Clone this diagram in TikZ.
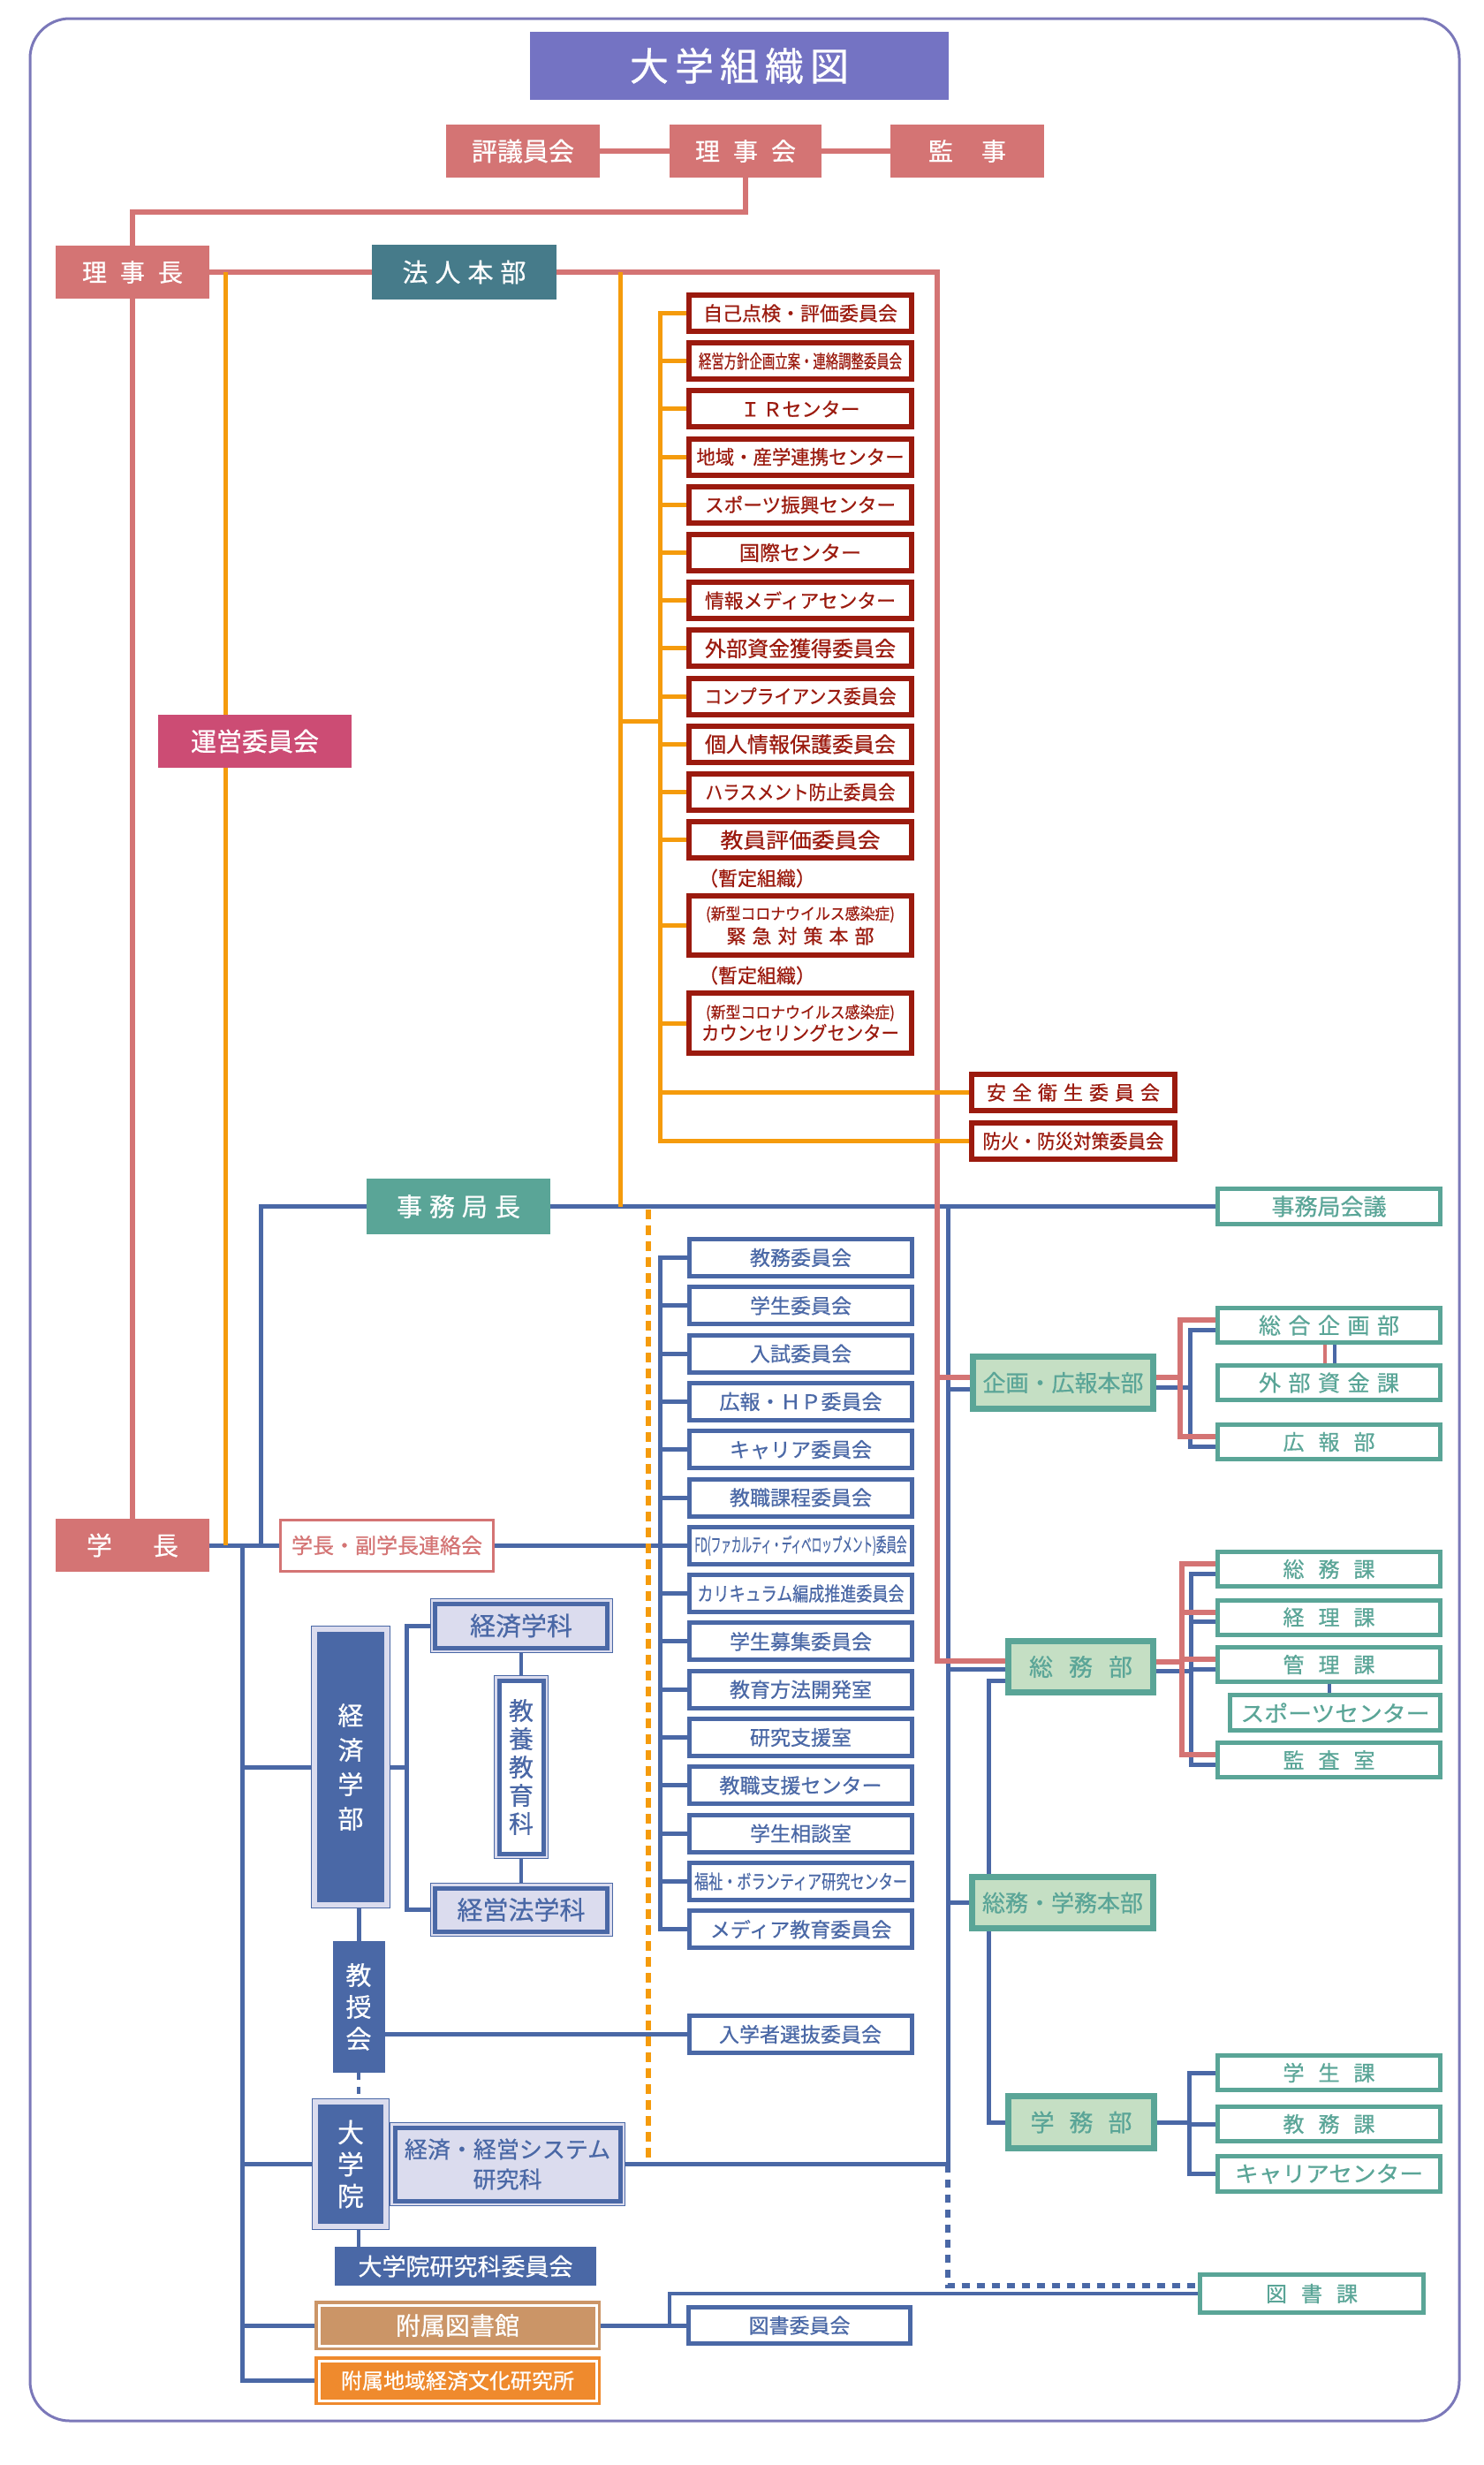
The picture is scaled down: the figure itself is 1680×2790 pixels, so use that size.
\documentclass[tikz,border=0pt]{standalone}
\usepackage{fontspec}
\setmainfont{Noto Sans CJK JP}[FakeBold=0.6]
\usepackage{graphicx}
\usetikzlibrary{backgrounds}

\definecolor{salmon}{HTML}{D47474}
\definecolor{petrol}{HTML}{467B8A}
\definecolor{titleblue}{HTML}{7473C3}
\definecolor{framec}{HTML}{7B78B9}
\definecolor{dkred}{HTML}{9B1A0E}
\definecolor{amber}{HTML}{F59B0C}
\definecolor{navy}{HTML}{4A68A6}
\definecolor{jteal}{HTML}{5AA597}
\definecolor{mint}{HTML}{C5DFC4}
\definecolor{lav}{HTML}{DBDCEE}
\definecolor{rose}{HTML}{CC4C74}
\definecolor{libtan}{HTML}{CB9567}
\definecolor{tangerine}{HTML}{EF8A2D}

\newcommand{\jfs}[1]{\fontsize{#1}{#1}\selectfont}
\newcommand{\jfl}[2]{\fontsize{#1}{#2}\selectfont}
\newcommand{\jgap}[1]{\hspace{#1pt}}
\newcommand{\fitw}[2]{\resizebox{#1pt}{\height}{#2}}

\tikzset{
  jbox/.style={rectangle, inner sep=0pt, outer sep=0pt},
  headbox/.style={jbox, fill=salmon, text=white, minimum width=174pt, minimum height=60pt, font=\jfs{28}},
  redbox/.style={jbox, draw=dkred, line width=6pt, fill=white, text=dkred, minimum width=252pt, minimum height=41pt, font=\jfs{22}},
  comm/.style={jbox, draw=navy, line width=5pt, fill=white, text=navy, minimum width=252pt, minimum height=42pt, font=\jfs{23}},
  office/.style={jbox, draw=jteal, line width=5pt, fill=white, text=jteal, minimum width=252pt, minimum height=39pt, font=\jfs{24}},
  hq/.style={jbox, draw=jteal, line width=7pt, fill=mint, text=jteal, font=\jfs{26}},
  faculty/.style={jbox, preaction={draw=navy, line width=14pt}, preaction={draw=lav, line width=12pt}, fill=navy, text=white},
  dept/.style={jbox, preaction={draw=navy, line width=12pt}, preaction={draw=lav, line width=10pt}, draw=navy, line width=5pt, fill=lav, text=navy},
  annex/.style={jbox, preaction={draw=#1, line width=10pt}, fill=#1, draw=white, line width=3pt, text=white, minimum width=314pt, minimum height=46pt},
  pinkline/.style={draw=salmon, line width=6pt},
  amberline/.style={draw=amber, line width=5pt},
  amberdash/.style={draw=amber, line width=6pt, dash pattern=on 11pt off 7pt},
  navyline/.style={draw=navy, line width=5pt},
  navydash/.style={draw=navy, line width=6pt, dash pattern=on 9pt off 8pt},
}

\begin{document}
\begin{tikzpicture}[x=1pt, y=-1pt]
  \useasboundingbox (0,0) rectangle (1680,2790);

  % board
  \node[jbox, fill=titleblue, text=white, minimum width=474pt, minimum height=77pt, font=\jfs{44}] (title) at (837,74.5) {大\jgap{7}学\jgap{7}組\jgap{7}織\jgap{7}図};
  \node[headbox, font=\jfs{29}] (hyogi) at (592,171) {評議員会};
  \node[headbox, minimum width=172pt] (rijikai) at (844,171) {理\jgap{15}事\jgap{15}会};
  \node[headbox] (kanji) at (1095,171) {監\jgap{32}事};
  \node[headbox] (rijicho) at (150,308) {理\jgap{15}事\jgap{15}長};
  \node[jbox, fill=petrol, text=white, minimum width=209pt, minimum height=62pt, font=\jfs{29}] (houjin) at (525.5,308) {法\jgap{8}人\jgap{8}本\jgap{8}部};
  \node[jbox, fill=rose, text=white, minimum width=219pt, minimum height=60pt, font=\jfs{29}] (unei) at (288.5,839) {運営委員会};

  % red committees
  \node[redbox] (r1) at (906,354.5) {自己点検・評価委員会};
  \node[redbox] (r2) at (906,408.7) {\fitw{230}{\jfs{21}経営方針企画立案・連絡調整委員会}};
  \node[redbox] (r3) at (906,462.9) {Ｉ\jgap{3}Ｒセンター};
  \node[redbox] (r4) at (906,517.1) {\fitw{235}{地域・産学連携センター}};
  \node[redbox] (r5) at (906,571.3) {\fitw{216}{スポーツ振興センター}};
  \node[redbox, font=\jfs{23}] (r6) at (906,625.5) {国際センター};
  \node[redbox] (r7) at (906,679.7) {\fitw{216}{情報メディアセンター}};
  \node[redbox, font=\jfs{24}] (r8) at (906,733.9) {外部資金獲得委員会};
  \node[redbox] (r9) at (906,788.1) {\fitw{217}{コンプライアンス委員会}};
  \node[redbox, font=\jfs{24}] (r10) at (906,842.3) {個人情報保護委員会};
  \node[redbox] (r11) at (906,896.5) {\fitw{215}{ハラスメント防止委員会}};
  \node[redbox, font=\jfs{24}] (r12) at (906,950.7) {\fitw{181}{教員評価委員会}};
  \node[jbox, text=dkred, font=\jfs{22}] (t1) at (857,994) {（暫定組織）};
  \node[redbox, minimum height=67pt, align=center, font=\jfl{22}{27}] (r13) at (906,1047.5)
    {\fitw{214}{\jfs{18}(新型コロナウイルス感染症)}\\緊\jgap{7}急\jgap{7}対\jgap{7}策\jgap{7}本\jgap{7}部};
  \node[jbox, text=dkred, font=\jfs{22}] (t2) at (857,1104) {（暫定組織）};
  \node[redbox, minimum height=68pt, align=center, font=\jfl{22}{25}] (r14) at (906,1158)
    {\fitw{214}{\jfs{18}(新型コロナウイルス感染症)}\\\fitw{224}{カウンセリングセンター}};
  \node[redbox, minimum width=230pt] (anzen) at (1215,1236.5) {安\jgap{7}全\jgap{7}衛\jgap{7}生\jgap{7}委\jgap{7}員\jgap{7}会};
  \node[redbox, minimum width=230pt] (bouka) at (1215,1291.5) {\fitw{205}{防火・防災対策委員会}};

  % office of the secretary general
  \node[jbox, fill=jteal, text=white, minimum width=208pt, minimum height=63pt, font=\jfs{29}] (jimukyokucho) at (519,1365.5) {事\jgap{8}務\jgap{8}局\jgap{8}長};
  \node[office, minimum height=40pt, font=\jfs{26}] (jimukaigi) at (1504.5,1365.5) {事務局会議};

  % blue committees
  \node[comm] (c1) at (906.5,1423.5) {教務委員会};
  \node[comm] (c2) at (906.5,1477.8) {学生委員会};
  \node[comm] (c3) at (906.5,1532.1) {入試委員会};
  \node[comm] (c4) at (906.5,1586.4) {広報・ＨＰ委員会};
  \node[comm] (c5) at (906.5,1640.7) {キャリア委員会};
  \node[comm] (c6) at (906.5,1695.0) {教職課程委員会};
  \node[comm] (c7) at (906.5,1749.3) {\fitw{240}{\jfs{22}FD(ファカルティ・ディベロップメント)委員会}};
  \node[comm] (c8) at (906.5,1803.6) {\fitw{234}{\jfs{22}カリキュラム編成推進委員会}};
  \node[comm] (c9) at (906.5,1857.9) {学生募集委員会};
  \node[comm] (c10) at (906.5,1912.2) {教育方法開発室};
  \node[comm] (c11) at (906.5,1966.5) {研究支援室};
  \node[comm] (c12) at (906.5,2020.8) {教職支援センター};
  \node[comm] (c13) at (906.5,2075.1) {学生相談室};
  \node[comm] (c14) at (906.5,2129.4) {\fitw{241}{\jfs{22}福祉・ボランティア研究センター}};
  \node[comm] (c15) at (906.5,2183.7) {メディア教育委員会};
  \node[comm] (senbatsu) at (906,2302.5) {入学者選抜委員会};
  \node[comm, minimum width=251pt, minimum height=41pt] (toshoiinkai) at (905,2632) {図書委員会};

  % headquarters and sections
  \node[hq, minimum width=204pt, minimum height=59pt] (kikaku) at (1203.5,1565) {企画・広報本部};
  \node[office, font=\jfs{25}] (sogo) at (1504.5,1500) {総\jgap{8.5}合\jgap{8.5}企\jgap{8.5}画\jgap{8.5}部};
  \node[office, font=\jfs{25}] (gaibu) at (1504.5,1565) {外\jgap{8.5}部\jgap{8.5}資\jgap{8.5}金\jgap{8.5}課};
  \node[office] (kouhou) at (1504.5,1632) {広\jgap{16}報\jgap{16}部};
  \node[hq, minimum width=164pt, minimum height=58pt, font=\jfs{27}] (soumubu) at (1223.5,1886.5) {総\jgap{18}務\jgap{18}部};
  \node[office] (soumuka) at (1504.5,1776) {総\jgap{16}務\jgap{16}課};
  \node[office] (keiri) at (1504.5,1830.5) {経\jgap{16}理\jgap{16}課};
  \node[office] (kanri) at (1504.5,1884) {管\jgap{16}理\jgap{16}課};
  \node[office, minimum width=238pt, minimum height=40pt, font=\jfs{25}] (sports) at (1511.5,1938.5) {\fitw{214}{スポーツセンター}};
  \node[office] (kansa) at (1504.5,1992) {監\jgap{16}査\jgap{16}室};
  \node[hq, minimum width=205pt, minimum height=58pt] (sougaku) at (1203,2153.5) {総務・学務本部};
  \node[hq, minimum width=165pt, minimum height=59pt, font=\jfs{27}] (gakumubu) at (1224,2402) {学\jgap{17}務\jgap{17}部};
  \node[office] (gakusei) at (1504.5,2346) {学\jgap{16}生\jgap{16}課};
  \node[office] (kyomu) at (1504.5,2404) {教\jgap{16}務\jgap{16}課};
  \node[office, minimum height=40pt, font=\jfs{25}] (career) at (1504.5,2460.5) {\fitw{213}{キャリアセンター}};
  \node[office, minimum width=253pt, minimum height=43pt] (tosho) at (1485,2596) {図\jgap{16}書\jgap{16}課};

  % president side
  \node[headbox, font=\jfs{29}] (gakucho) at (150,1749) {学\jgap{46}長};
  \node[jbox, draw=salmon, line width=3pt, fill=white, text=salmon, minimum width=241pt, minimum height=58pt, font=\jfs{24}] (renraku) at (438,1749) {学長・副学長連絡会};
  \node[faculty, minimum width=76pt, minimum height=306pt, align=center, font=\jfl{29}{39}] (keizaigakubu) at (397,2000) {経\\済\\学\\部};
  \node[dept, minimum width=195pt, minimum height=50pt, font=\jfs{29}] (keizaigakka) at (590,1840) {経済学科};
  \node[dept, minimum width=195pt, minimum height=49pt, font=\jfs{29}] (keieihougakka) at (590,2161.5) {経営法学科};
  \node[dept, fill=white, minimum width=50pt, minimum height=196pt, align=center, font=\jfl{28}{32}] (kyoyo) at (590,2000) {教\\養\\教\\育\\科};
  \node[jbox, fill=navy, text=white, minimum width=59pt, minimum height=149pt, align=center, font=\jfl{29}{36}] (kyojukai) at (406,2271.5) {教\\授\\会};
  \node[dept, minimum width=255pt, minimum height=83pt, align=center, font=\jfl{26}{34}] (kenkyuka) at (574.5,2449.5) {経済・経営システム\\研究科};
  \node[faculty, minimum width=74pt, minimum height=135pt, align=center, font=\jfl{30}{36}] (daigakuin) at (397,2449.5) {大\\学\\院};
  \node[jbox, fill=navy, text=white, minimum width=296pt, minimum height=44pt, font=\jfs{27}] (inkai) at (527,2565) {大学院研究科委員会};
  \node[annex=libtan, font=\jfs{28}] (fuzokutosho) at (518,2632) {附属図書館};
  \node[annex=tangerine, minimum height=45pt, font=\jfs{24}] (chiiki) at (518,2694.5) {附属地域経済文化研究所};

  % junctions
  \coordinate (bend) at (150,240);
  \coordinate (pdrop) at (1061,1880);
  \coordinate (pkik) at (1061,1559);
  \coordinate (ao1) at (255,308);
  \coordinate (ao2) at (255,1749);
  \coordinate (ao3) at (702,308);
  \coordinate (ao4) at (702,1366);
  \coordinate (abj) at (747,816);
  \coordinate (od1) at (734,1369);
  \coordinate (od2) at (734,2446);
  \coordinate (cbx) at (747,1749);
  \coordinate (jbj) at (295,1749);
  \coordinate (trt) at (274,1749);
  \coordinate (bvt) at (1073,1366);
  \coordinate (bvb) at (1073,2449.5);
  \coordinate (bkik) at (1073,1572);
  \coordinate (bsou) at (1073,1889);
  \coordinate (bgk) at (1119,1902);
  \coordinate (kbr) at (460,2000);
  \coordinate (lj) at (758,2632);
  \coordinate (tdj) at (1073,2587);
  \coordinate (kpx) at (1336,1565);
  \coordinate (spx) at (1338,1886.5);
  \coordinate (kbx) at (1347,1565);
  \coordinate (sbx) at (1348,1886.5);
  \coordinate (gbx) at (1346,2402);

  \begin{pgfonlayer}{background}
    \draw[framec, line width=3pt, rounded corners=45pt] (34,21) rectangle (1652,2740);

    % navy connectors
    \draw[navyline] (gakucho) -- (renraku);
    \draw[navyline] (renraku.east) -- (cbx);
    \draw[navyline] (c1.west) -| (c15.west -| cbx) -- (c15.west);
    \foreach \i in {2,...,14} \draw[navyline] (c\i.west -| cbx) -- (c\i.west);
    \draw[navyline] (jbj) |- (jimukyokucho.west);
    \draw[navyline] (jimukyokucho) -- (jimukaigi);
    \draw[navyline] (kenkyuka.east) -| (bvt);
    \draw[navyline] (bkik) -- (bkik -| kikaku.west);
    \draw[navyline] (bsou) -- (bsou -| soumubu.west);
    \draw[navyline] (sougaku.west -| bvt) -- (sougaku.west);
    \draw[navyline] (bgk -| soumubu.west) -- (bgk) |- (gakumubu.west);
    \draw[navyline] (trt) |- (chiiki.west);
    \draw[navyline] (keizaigakubu.west -| trt) -- (keizaigakubu.west);
    \draw[navyline] (daigakuin.west -| trt) -- (daigakuin.west);
    \draw[navyline] (fuzokutosho.west -| trt) -- (fuzokutosho.west);
    \draw[navyline] (keizaigakubu.east) -- (kbr);
    \draw[navyline] (keizaigakka.west) -| (kbr) |- (keieihougakka.west);
    \draw[navyline, line width=4pt] (keizaigakka) -- (kyoyo);
    \draw[navyline, line width=4pt] (kyoyo) -- (keieihougakka);
    \draw[navyline] (keizaigakubu.south -| kyojukai) -- (kyojukai.north);
    \draw[navyline] (senbatsu.west -| kyojukai.east) -- (senbatsu.west);
    \draw[navyline, line width=4pt, dash pattern=on 8pt off 8pt] (kyojukai.south) -- (kyojukai.south |- daigakuin.north);
    \draw[navyline, line width=4pt] (daigakuin.south -| kyojukai) -- (inkai.north -| kyojukai);
    \draw[navyline] (fuzokutosho.east) -- (toshoiinkai.west);
    \draw[navyline, line width=4pt] (lj) |- (tosho.west);
    \draw[navydash] (bvb) -- (tdj) -- (tdj -| tosho.west);
    \draw[navyline] (gakumubu.east) -- (gbx);
    \draw[navyline] (gakusei.west) -| (gbx) |- (career.west);
    \draw[navyline] (kyomu.west -| gbx) -- (kyomu.west);
    \draw[navyline, line width=4pt] ([xshift=6pt]sogo.south) -- ([xshift=6pt]gaibu.north);
    \draw[navyline, line width=4pt] (kanri.south) -- (kanri.south |- sports.north);
    \begin{scope}[transform canvas={yshift=-5pt}]
      \draw[navyline] (kikaku.east) -- (kbx);
      \draw[navyline] (sogo.west) -| (kbx) |- (kouhou.west);
      \draw[navyline] (soumubu.east) -- (sbx);
      \draw[navyline] (soumuka.west) -| (sbx) |- (kansa.west);
      \draw[navyline] (keiri.west -| sbx) -- (keiri.west);
      \draw[navyline] (kanri.west -| sbx) -- (kanri.west);
    \end{scope}

    % board connectors
    \draw[pinkline] (hyogi) -- (rijikai);
    \draw[pinkline] (rijikai) -- (kanji);
    \draw[pinkline] (rijikai.south) |- (bend) -- (rijicho.north);
    \draw[pinkline] (rijicho) -- (gakucho);
    \draw[pinkline] (rijicho) -- (houjin);
    \draw[pinkline] (houjin.east) -| (pdrop) -- (pdrop -| soumubu.west);
    \draw[pinkline] (pkik) -- (pkik -| kikaku.west);
    \draw[pinkline, line width=4pt] ([xshift=-5pt]sogo.south) -- ([xshift=-5pt]gaibu.north);
    \begin{scope}[transform canvas={yshift=6pt}]
      \draw[pinkline] (kikaku.east) -- (kpx);
      \draw[pinkline] (sogo.west) -| (kpx) |- (kouhou.west);
      \draw[pinkline] (soumubu.east) -- (spx);
      \draw[pinkline] (soumuka.west) -| (spx) |- (kansa.west);
      \draw[pinkline] (keiri.west -| spx) -- (keiri.west);
      \draw[pinkline] (kanri.west -| spx) -- (kanri.west);
    \end{scope}

    % amber connectors
    \draw[amberline] (ao1) -- (ao2);
    \draw[amberline] (ao3) -- (ao4);
    \draw[amberline] (ao3 |- abj) -- (abj);
    \draw[amberline] (r1.west) -| (bouka.west -| abj) -- (bouka.west);
    \foreach \i in {2,...,14} \draw[amberline] (r\i.west -| abj) -- (r\i.west);
    \draw[amberline] (anzen.west -| abj) -- (anzen.west);
    \draw[amberdash] (od1) -- (od2);
  \end{pgfonlayer}
\end{tikzpicture}
\end{document}
